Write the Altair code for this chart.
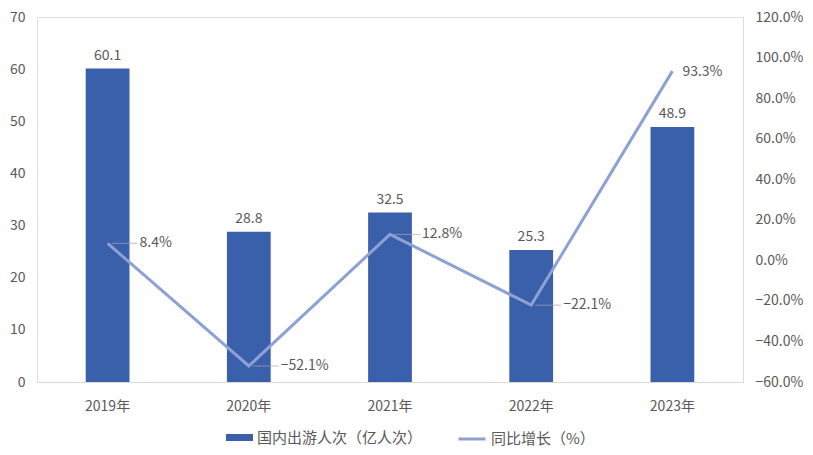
import altair as alt
import pandas as pd

years = ["2019年", "2020年", "2021年", "2022年", "2023年"]
visitors = [60.1, 28.8, 32.5, 25.3, 48.9]
growth = [0.084, -0.521, 0.128, -0.221, 0.933]
s_bar = "国内出游人次（亿人次）"
s_line = "同比增长（%）"
left_ticks = [0, 10, 20, 30, 40, 50, 60, 70]
right_ticks = [-0.6, -0.4, -0.2, 0.0, 0.2, 0.4, 0.6, 0.8, 1.0, 1.2]

BAR = "#3A5FAB"
LINE = "#8EA1D5"
TXT = "#595959"
FONT = "Noto Sans CJK SC"
FS = 14

df = pd.DataFrame({"year": years, "visitors": visitors, "growth": growth})
df["bar_series"] = s_bar
df["line_series"] = s_line

xenc = alt.X("year:N", sort=years,
             scale=alt.Scale(paddingInner=0.69, paddingOuter=0.345),
             axis=alt.Axis(title=None, labelAngle=0, ticks=False, labelPadding=17,
                           domainColor="#D9D9D9", labelColor=TXT, labelFontSize=FS,
                           labelFont=FONT))

fill = alt.Fill("bar_series:N", scale=alt.Scale(domain=[s_bar], range=[BAR]),
                legend=alt.Legend(title=None, orient="none", legendX=189, legendY=407,
                                  padding=0, labelFont=FONT, labelFontSize=15,
                                  labelLimit=400,
                                  labelColor=TXT, symbolType="M-1,-0.26H1V0.26H-1Z",
                                  symbolSize=729, labelOffset=4, symbolStrokeWidth=0))
stroke = alt.Stroke("line_series:N", scale=alt.Scale(domain=[s_line], range=[LINE]),
                    legend=alt.Legend(title=None, orient="none", legendX=420, legendY=407,
                                      padding=0, labelFont=FONT, labelFontSize=15,
                                      labelLimit=400,
                                      labelColor=TXT, symbolType="M-1,0H1",
                                      symbolSize=729, symbolStrokeWidth=3, labelOffset=4))

yl = alt.Y("visitors:Q", scale=alt.Scale(domain=[0, 70], nice=False),
           axis=alt.Axis(title=None, values=left_ticks, grid=False, ticks=False,
                         domain=False, labelPadding=12, labelColor=TXT,
                         labelFontSize=FS, labelFont=FONT))

bars = alt.Chart(df).mark_bar().encode(x=xenc, y=yl, fill=fill)
bar_text = alt.Chart(df).mark_text(dy=-6, baseline="bottom", fontSize=FS, font=FONT,
                                   color=TXT).encode(
    x=alt.X("year:N", sort=years), y=alt.Y("visitors:Q"), text=alt.Text("visitors:Q", format=".1f"))
left = alt.layer(bars, bar_text)

yr = alt.Y("growth:Q", scale=alt.Scale(domain=[-0.6, 1.2], nice=False),
           axis=alt.Axis(title=None, orient="right", values=right_ticks, format=".1%",
                         grid=False, ticks=False, domain=False, labelPadding=12,
                         labelColor=TXT, labelFontSize=FS, labelFont=FONT))

line = alt.Chart(df).mark_line(strokeWidth=3).encode(
    x=alt.X("year:N", sort=years), y=yr, stroke=stroke)
leaders = alt.Chart(df).transform_filter(alt.datum.year != "2023年").mark_tick(
    color="#A6A6A6", thickness=1, size=26, xOffset=17).encode(
    x=alt.X("year:N", sort=years), y=alt.Y("growth:Q"))
line_text = alt.Chart(df).transform_filter(alt.datum.year != "2023年").mark_text(
    dx=32, align="left", baseline="middle", fontSize=FS, font=FONT, color=TXT).encode(
    x=alt.X("year:N", sort=years), y=alt.Y("growth:Q"), text=alt.Text("growth:Q", format=".1%"))
last_text = alt.Chart(df).transform_filter(alt.datum.year == "2023年").mark_text(
    dx=10, dy=1, align="left", baseline="middle", fontSize=FS, font=FONT, color=TXT).encode(
    x=alt.X("year:N", sort=years), y=alt.Y("growth:Q"), text=alt.Text("growth:Q", format=".1%"))
right = alt.layer(line, leaders, line_text, last_text)

chart = alt.layer(left, right).resolve_scale(y="independent").properties(
    width=706, height=365,
    padding={"left": 1, "top": 2, "right": 0, "bottom": 0}
).configure_view(stroke=None).configure(background="white")

chart.save("out.html", embed_options={"renderer": "svg", "actions": False})
